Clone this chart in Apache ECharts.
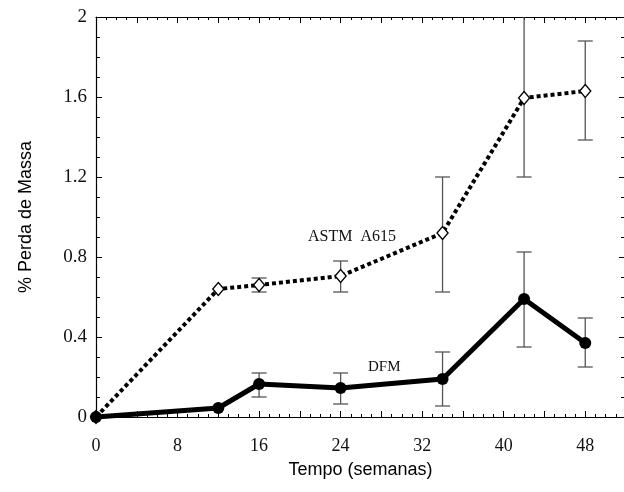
<!DOCTYPE html>
<html>
<head>
<meta charset="utf-8">
<script src="https://cdn.jsdelivr.net/npm/echarts@6/dist/echarts.min.js"></script>
<style>
html,body{margin:0;padding:0;background:#fff;}
#chart{width:624px;height:492px;}
</style>
</head>
<body>
<div id="chart"></div>
<script>
// Data
const weeks    = [0, 12, 16, 24, 34, 42, 48];
const astm     = [0, 0.64, 0.66, 0.705, 0.92, 1.595, 1.63];
const astmLow  = [null, null, 0.625, 0.625, 0.625, 1.2, 1.385];
const astmHigh = [null, null, 0.695, 0.78, 1.2, 2.05, 1.88];
const dfm      = [0, 0.045, 0.165, 0.145, 0.19, 0.59, 0.37];
const dfmLow   = [null, null, 0.10, 0.065, 0.055, 0.35, 0.25];
const dfmHigh  = [null, null, 0.22, 0.22, 0.325, 0.825, 0.495];
const xTickLabels = [0, 8, 16, 24, 32, 40, 48];
const yTickLabels = ['0', '0.4', '0.8', '1.2', '1.6', '2'];
const seriesNames = ['ASTM  A615', 'DFM'];

const pts = (ys) => weeks.map((w, i) => [w, ys[i]]);
const errs = (lo, hi) => weeks.map((w, i) => [w, lo[i], hi[i]]).filter(d => d[1] != null);

const serif = 'Liberation Serif';
const sans = 'Liberation Sans';

function errRender(params, api) {
  const x = api.value(0);
  const p1 = api.coord([x, api.value(1)]);
  const p2 = api.coord([x, api.value(2)]);
  const hw = 7.5;
  const st = { stroke: '#555', lineWidth: 1.3 };
  return {
    type: 'group',
    children: [
      { type: 'line', shape: { x1: p1[0], y1: p1[1], x2: p2[0], y2: p2[1] }, style: st },
      { type: 'line', shape: { x1: p1[0] - hw, y1: p1[1], x2: p1[0] + hw, y2: p1[1] }, style: st },
      { type: 'line', shape: { x1: p2[0] - hw, y1: p2[1], x2: p2[0] + hw, y2: p2[1] }, style: st }
    ]
  };
}

const XMAX = 51.9;
const axisLineStyle = { color: '#000', width: 1.2 };
const tickStyle = { color: '#000', width: 1 };

const chart = echarts.init(document.getElementById('chart'), null, { renderer: 'canvas' });
chart.setOption({
  animation: false,
  backgroundColor: '#fff',
  grid: { left: 96, width: 529, top: 17, height: 400, containLabel: false, outerBoundsMode: 'none' },
  xAxis: [
    {
      type: 'value', position: 'bottom', min: 0, max: XMAX, interval: 4,
      name: 'Tempo (semanas)', nameLocation: 'middle', nameGap: 44,
      nameTextStyle: { fontFamily: sans, fontSize: 18, color: '#000' },
      axisLine: { show: true, onZero: false, lineStyle: axisLineStyle },
      axisTick: { show: true, inside: true, length: 6, lineStyle: tickStyle },
      minorTick: { show: true, splitNumber: 4, length: 3, lineStyle: tickStyle },
      splitLine: { show: false },
      axisLabel: {
        margin: 20, fontFamily: serif, fontSize: 18, color: '#111',
        formatter: v => xTickLabels.includes(v) ? String(v) : ''
      }
    },
    {
      type: 'value', position: 'top', min: 0, max: XMAX, interval: 4,
      axisLine: { show: true, onZero: false, lineStyle: axisLineStyle },
      axisTick: { show: true, inside: true, length: 6, lineStyle: tickStyle },
      minorTick: { show: true, splitNumber: 4, length: 3, lineStyle: tickStyle },
      splitLine: { show: false },
      axisLabel: { show: false }
    }
  ],
  yAxis: [
    {
      type: 'value', position: 'left', min: 0, max: 2, interval: 0.4,
      name: '% Perda de Massa', nameLocation: 'middle', nameGap: 61,
      nameTextStyle: { fontFamily: sans, fontSize: 18, color: '#000' },
      axisLine: { show: true, onZero: false, lineStyle: axisLineStyle },
      axisTick: { show: true, inside: true, length: 6, lineStyle: tickStyle },
      minorTick: { show: true, splitNumber: 4, length: 4, lineStyle: tickStyle },
      splitLine: { show: false },
      axisLabel: {
        margin: 9, fontFamily: serif, fontSize: 19, color: '#111',
        formatter: v => { const s = String(Math.round(v * 10) / 10); return yTickLabels.includes(s) ? s : ''; }
      }
    },
    {
      type: 'value', position: 'right', min: 0, max: 2, interval: 0.4,
      axisLine: { show: true, onZero: false, lineStyle: axisLineStyle },
      axisTick: { show: true, inside: true, length: 6, lineStyle: tickStyle },
      minorTick: { show: true, splitNumber: 4, length: 4, lineStyle: tickStyle },
      splitLine: { show: false },
      axisLabel: { show: false }
    }
  ],
  series: [
    {
      type: 'custom', name: 'astmErr', renderItem: errRender, clip: true, z: 1,
      encode: { x: 0, y: [1, 2] }, data: errs(astmLow, astmHigh), silent: true
    },
    {
      type: 'custom', name: 'dfmErr', renderItem: errRender, clip: true, z: 1,
      encode: { x: 0, y: [1, 2] }, data: errs(dfmLow, dfmHigh), silent: true
    },
    {
      type: 'line', name: seriesNames[0], data: pts(astm), z: 3,
      symbol: 'diamond', symbolSize: [11, 13], showAllSymbol: true,
      lineStyle: { color: '#000', width: 4, type: [4, 3], cap: 'butt' },
      itemStyle: { color: '#fff', borderColor: '#000', borderWidth: 1.4 },
      label: { show: false }
    },
    {
      type: 'line', name: seriesNames[1], data: pts(dfm), z: 4,
      symbol: 'circle', symbolSize: 12, showAllSymbol: true,
      lineStyle: { color: '#000', width: 5 },
      itemStyle: { color: '#000', borderColor: '#000', borderWidth: 0 },
      label: { show: false }
    }
  ],
  graphic: [
    { type: 'text', left: 308, top: 229, style: { text: seriesNames[0], font: '16px "Liberation Serif"', fill: '#111' } },
    { type: 'text', left: 368, top: 360, style: { text: seriesNames[1], font: '15px "Liberation Serif"', fill: '#111' } }
  ]
});
</script>
</body>
</html>
